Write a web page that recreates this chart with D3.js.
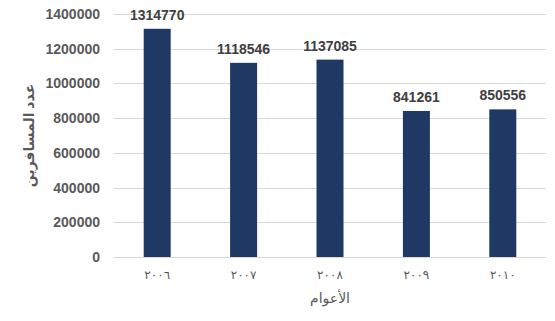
<!DOCTYPE html>
<html lang="ar">
<head>
<meta charset="utf-8">
<title>عدد المسافرين</title>
<script src="https://d3js.org/d3.v7.min.js"></script>
<style>
  body { margin: 0; background: #fff; }
  svg text { font-family: "Liberation Sans", "DejaVu Sans", sans-serif; }
</style>
</head>
<body>
<script>
// data
var years = ["٢٠٠٦", "٢٠٠٧", "٢٠٠٨", "٢٠٠٩", "٢٠١٠"];
var travellers = [1314770, 1118546, 1137085, 841261, 850556];
var yTicks = [0, 200000, 400000, 600000, 800000, 1000000, 1200000, 1400000];

var width = 555, height = 321;
// plot area (window.top is reserved, so use other names)
var plotLeft = 114, plotRight = 546, plotTop = 14, plotBottom = 257;

var svg = d3.select("body").append("svg")
    .attr("width", width)
    .attr("height", height);

var x = d3.scaleBand()
    .domain(years)
    .range([plotLeft, plotRight])
    .paddingInner(0.6875)
    .paddingOuter(0.34375);

var y = d3.scaleLinear()
    .domain([0, 1400000])
    .range([plotBottom, plotTop]);

// gridlines
svg.append("g")
    .selectAll("line")
    .data(yTicks)
    .enter().append("line")
    .attr("x1", plotLeft)
    .attr("x2", plotRight)
    .attr("y1", function(d) { return Math.round(y(d)) + 0.5; })
    .attr("y2", function(d) { return Math.round(y(d)) + 0.5; })
    .style("stroke", "#d9d9d9")
    .style("stroke-width", 1);

// y tick labels
svg.append("g")
    .selectAll("text")
    .data(yTicks)
    .enter().append("text")
    .attr("x", 100)
    .attr("y", function(d) { return y(d); })
    .attr("dy", "0.36em")
    .attr("text-anchor", "end")
    .attr("font-size", 14)
    .attr("font-weight", "bold")
    .attr("fill", "#595959")
    .text(function(d) { return d; });

// bars
svg.append("g")
    .selectAll("rect")
    .data(travellers)
    .enter().append("rect")
    .attr("x", function(d, i) { return x(years[i]); })
    .attr("y", function(d) { return y(d); })
    .attr("width", x.bandwidth())
    .attr("height", function(d) { return y(0) - y(d); })
    .style("fill", "#203864");

// value labels
svg.append("g")
    .selectAll("text")
    .data(travellers)
    .enter().append("text")
    .attr("x", function(d, i) { return x(years[i]) + x.bandwidth() / 2; })
    .attr("y", function(d) { return y(d) - 9; })
    .attr("text-anchor", "middle")
    .attr("font-size", 14)
    .attr("font-weight", "bold")
    .attr("fill", "#404040")
    .text(function(d) { return d; });

// x tick labels
svg.append("g")
    .selectAll("text")
    .data(years)
    .enter().append("text")
    .attr("x", function(d) { return x(d) + x.bandwidth() / 2; })
    .attr("y", 279)
    .attr("text-anchor", "middle")
    .attr("font-size", 12)
    .attr("fill", "#595959")
    .text(function(d) { return d; });

// axis titles
svg.append("text")
    .attr("x", 330)
    .attr("y", 303)
    .attr("text-anchor", "middle")
    .attr("font-size", 14)
    .attr("fill", "#595959")
    .text("الأعوام");

svg.append("text")
    .attr("transform", "translate(34," + ((plotTop + plotBottom) / 2) + ") rotate(-90)")
    .attr("text-anchor", "middle")
    .attr("font-size", 14)
    .attr("font-weight", "bold")
    .attr("fill", "#595959")
    .text("عدد المسافرين");
</script>
</body>
</html>
